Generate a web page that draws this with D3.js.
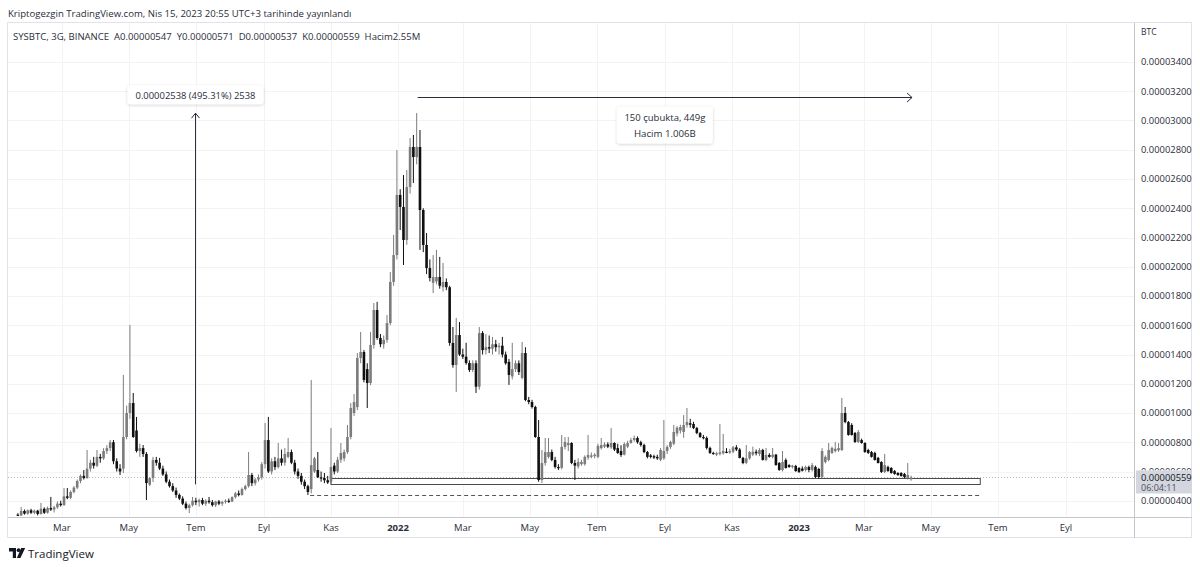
<!DOCTYPE html>
<html>
<head>
<meta charset="utf-8">
<script src="https://cdn.jsdelivr.net/npm/d3@7"></script>
<style>
  body { margin: 0; background: #fff; }
  svg { display: block; font-family: "Open Sans", sans-serif; }
</style>
</head>
<body>
<svg id="chart" width="1200" height="567"></svg>
<script>
// 3-day SYSBTC candles, prices in satoshi (1e-8 BTC), [open, high, low, close]
const lastOpen = "2023-04-13";
const stepDays = 3;
const ohlc = [
  [305,315,295,300],[300,357,295,330],[330,340,305,312],[312,340,305,335],[335,345,310,318],[318,340,308,332],[332,338,300,310],[310,385,305,345],[345,355,310,318],[318,360,312,350],
  [350,426,330,340],[340,365,320,355],[355,395,345,380],[380,400,360,370],[370,487,365,430],[430,487,410,420],[420,470,410,460],[460,500,450,490],[490,545,480,535],[535,580,520,570],
  [570,610,545,555],[555,747,550,620],[620,680,600,660],[660,700,620,640],[640,747,630,700],[700,720,660,690],[690,760,680,740],[740,780,720,760],[760,815,740,800],[800,815,650,670],
  [670,690,600,620],[620,650,576,600],[620,1260,590,836],[836,1050,820,1000],[1000,1602,960,1068],[1068,1137,830,836],[880,973,730,740],[740,790,700,760],[760,781,700,720],[720,733,405,521],
  [510,560,500,555],[555,700,528,679],[679,700,640,660],[660,693,610,620],[620,640,570,580],[580,600,520,530],[530,545,490,500],[500,520,460,470],[470,490,420,440],[440,450,405,415],
  [415,430,370,380],[380,395,340,350],[350,380,316,370],[370,426,360,400],[400,420,370,390],[390,415,360,405],[405,420,370,380],[380,410,365,400],[400,426,380,390],[390,405,360,370],
  [370,400,357,395],[395,405,370,380],[380,400,365,392],[392,410,380,400],[400,415,385,395],[395,430,390,425],[425,460,415,450],[450,470,430,440],[440,490,435,480],[480,510,470,500],
  [500,733,490,576],[576,590,500,520],[520,555,505,545],[545,580,530,560],[560,665,545,650],[650,932,620,815],[815,973,590,600],[600,690,580,670],[670,700,610,630],[630,795,620,690],
  [690,750,640,660],[660,760,640,720],[700,829,690,733],[733,750,650,660],[660,680,580,600],[600,620,550,570],[570,590,510,530],[530,545,480,500],[500,510,439,460],[480,1226,450,644],
  [600,700,590,690],[610,733,555,560],[560,600,530,555],[555,590,520,540],[540,570,515,525],
  [528,897,515,631],[640,660,580,600],[600,700,590,680],[680,795,660,727],[690,750,670,733],[733,918,720,836],[836,1068,820,1034],[1000,1130,980,1075],[1040,1410,1020,1376],[1376,1554,1340,1417],
  [1417,1430,1210,1226],[1300,1340,1034,1205],[1205,1554,1190,1465],[1465,1752,1440,1704],[1704,1760,1500,1513],[1513,1540,1450,1470],[1470,1530,1440,1500],[1500,1670,1480,1615],[1615,1964,1600,1896],[1896,2217,1870,2080],
  [2080,2798,2050,2491],[2491,2530,2251,2409],[2409,2627,2012,2183],[2183,2662,2150,2545],[2545,2880,2500,2819],[2819,2901,2573,2750],[2750,3051,2700,2819],[2819,2935,2115,2388],[2388,2400,2100,2149],[2149,2231,1950,1991],
  [1991,2050,1900,1923],[1890,2080,1820,1930],[1900,2115,1880,1930],[1930,2067,1850,1870],[1860,2026,1830,1896],[1896,1920,1840,1860],[1860,1870,1460,1479],[1479,1588,1310,1328],[1328,1650,1144,1533],[1533,1622,1390,1400],
  [1400,1440,1370,1385],[1385,1480,1330,1342],[1342,1360,1280,1294],[1294,1360,1280,1340],[1340,1360,1137,1180],[1180,1588,1160,1547],[1547,1560,1400,1430],[1430,1540,1400,1450],[1450,1530,1410,1440],[1440,1520,1400,1470],
  [1470,1500,1420,1450],[1450,1480,1400,1460],[1460,1520,1380,1400],[1400,1420,1330,1340],[1350,1370,1192,1260],[1250,1480,1230,1300],[1300,1360,1280,1340],[1340,1360,1260,1280],[1240,1486,1230,1410],[1410,1450,1080,1089],
  [1089,1110,1060,1075],[1075,1090,1030,1041],[1041,1050,830,836],[836,952,530,542],[542,747,521,658],[658,829,640,733],[700,829,690,733],[733,750,670,679],[679,700,620,631],[631,650,610,625],
  [625,850,615,768],[768,836,750,802],[780,836,740,795],[795,800,650,658],[658,680,542,640],[635,690,620,665],[650,680,640,665],[650,710,640,700],[695,850,680,713],[700,730,690,710],
  [705,725,690,715],[700,790,690,775],[760,829,750,781],[770,800,760,785],[785,800,760,770],[765,897,755,795],[795,800,740,750],[760,790,720,727],[740,780,700,713],[715,800,710,788],
  [770,810,760,795],[795,830,790,815],[815,845,805,829],[829,840,790,800],[800,810,770,781],[781,790,725,733],[733,740,690,700],[710,720,690,700],[705,715,685,695],[700,715,680,690],
  [680,760,670,747],[690,952,680,740],[740,780,720,768],[768,810,755,802],[790,918,780,870],[860,910,840,900],[880,920,860,904],[870,986,830,918],[918,1034,900,938],[930,960,900,920],
  [925,940,890,897],[897,905,855,863],[863,870,830,836],[836,850,820,829],[829,840,750,761],[761,770,720,727],[727,735,715,720],[715,735,705,725],[720,925,710,730],[725,857,715,740],
  [735,760,725,730],[730,755,720,740],[735,775,725,765],[765,780,740,750],[750,760,690,693],[693,700,650,658],[660,781,650,690],[690,740,680,733],[715,770,705,735],[735,750,710,725],
  [720,760,705,747],[747,755,675,679],[679,761,670,713],[713,725,695,700],[700,761,690,715],[715,720,640,644],[658,665,605,610],[610,740,600,665],[679,690,620,624],[644,650,625,631],
  [631,645,620,640],[638,645,598,603],[624,630,590,597],[620,635,600,605],[610,640,600,631],[631,640,595,610],[610,658,600,644],[631,640,555,562],[617,625,550,562],[562,760,555,740],
  [665,710,655,700],[679,795,670,747],[727,770,720,761],[740,802,730,755],[745,795,735,760],[747,1103,740,1000],[1000,1041,930,938],[938,945,845,850],[918,930,845,850],[863,870,795,802],
  [802,884,795,870],[815,825,790,795],[795,800,728,733],[747,755,720,727],[733,740,695,700],[727,735,675,679],[693,700,655,658],[665,670,590,597],[597,720,590,644],[631,640,598,603],
  [624,630,585,590],[603,610,578,583],[590,595,570,576],[590,595,565,569],[583,590,555,562],[556,658,545,576],[547,571,537,559]
];

const priceTicks = [400,600,800,1000,1200,1400,1600,1800,2000,2200,2400,2600,2800,3000,3200,3400];
const timeTicks = ["2021-03-01","2021-05-01","2021-07-01","2021-09-01","2021-11-01","2022-01-01",
                   "2022-03-01","2022-05-01","2022-07-01","2022-09-01","2022-11-01","2023-01-01",
                   "2023-03-01","2023-05-01","2023-07-01","2023-09-01"];
const timeLabels = ["Mar","May","Tem","Eyl","Kas","2022","Mar","May","Tem","Eyl","Kas","2023","Mar","May","Tem","Eyl"];

// drawings on the chart
const lastPrice = 559;
const measureDate = "2021-06-30", measureLow = 512, measureHigh = 3050;
const measureText = "0.00002538 (495.31%) 2538";
const spanFrom = 121, spanPrice = 3160;
const spanText = ["150 çubukta, 449g", "Hacim 1.006B"];
const zoneFrom = "2021-11-01", zoneTo = "2023-06-15", zoneLow = 515, zoneHigh = 556;
const dashFrom = "2021-10-13", dashLevel = 439;

const headerText = "Kriptogezgin TradingView.com, Nis 15, 2023 20:55 UTC+3 tarihinde yayınlandı";
const legendText = "SYSBTC, 3G, BINANCE  A0.00000547  Y0.00000571  D0.00000537  K0.00000559  Hacim2.55M";

const svg = d3.select("#chart");
const pL = 8, pR = 1134, pT = 23, pB = 517;
const textColor = "#2a2e39", upColor = "#7c7c7c", downColor = "#101010";

const parse = d3.utcParse("%Y-%m-%d");
const lastDay = parse(lastOpen);
const dates = ohlc.map((d, i) => d3.utcDay.offset(lastDay, -stepDays * (ohlc.length - 1 - i)));

const x = d3.scaleUtc()
  .domain([parse("2022-01-01"), parse("2023-01-01")])
  .range([398, 799]);
const y = d3.scaleLinear().domain([400, 3400]).range([500.75, 62]);
const fmt = v => (v * 1e-8).toFixed(8);
const ly = y(lastPrice);

// shadow for the label boxes
const defs = svg.append("defs");
defs.append("filter").attr("id", "shadow").attr("x", "-20%").attr("y", "-40%").attr("width", "140%").attr("height", "180%")
  .append("feDropShadow").attr("dx", 0).attr("dy", 1).attr("stdDeviation", 1.5).attr("flood-color", "#000").attr("flood-opacity", 0.18);
defs.append("clipPath").attr("id", "plot")
  .append("rect").attr("x", pL).attr("y", pT).attr("width", pR - pL).attr("height", pB - pT);
// price labels are hidden behind the last-price badge
const axisClip = defs.append("clipPath").attr("id", "axisclip");
axisClip.append("rect").attr("x", pR).attr("y", pT).attr("width", 60).attr("height", ly - 7 - pT);
axisClip.append("rect").attr("x", pR).attr("y", ly + 16).attr("width", 60).attr("height", pB - ly - 16);

function fit(t, w) {
  const len = t.node().getComputedTextLength();
  t.attr("font-size", (parseFloat(t.attr("font-size")) * w / len).toFixed(2));
}

// header
fit(svg.append("text").attr("x", 8).attr("y", 16.5).attr("font-size", 11)
  .attr("fill", textColor).text(headerText), 344);

// panel frame
svg.append("rect").attr("x", pL - 0.5).attr("y", pT - 0.5).attr("width", 1192 - pL).attr("height", 538 - pT)
  .attr("fill", "none").attr("stroke", "#e0e3eb");

// grid
svg.append("g").selectAll("line").data(priceTicks).join("line")
  .attr("x1", pL).attr("x2", pR)
  .attr("y1", d => Math.round(y(d)) + 0.5).attr("y2", d => Math.round(y(d)) + 0.5)
  .attr("stroke", "#f3f3f3");
svg.append("g").selectAll("line").data(timeTicks).join("line")
  .attr("x1", d => Math.round(x(parse(d))) + 0.5).attr("x2", d => Math.round(x(parse(d))) + 0.5)
  .attr("y1", pT).attr("y2", pB)
  .attr("stroke", "#f3f3f3");

// legend
fit(svg.append("text").attr("x", 13).attr("y", 39.5).attr("font-size", 11)
  .style("white-space", "pre")
  .attr("fill", textColor).text(legendText), 408);

// last price dotted line
svg.append("line").attr("x1", pL).attr("x2", pR)
  .attr("y1", Math.round(ly) + 0.5).attr("y2", Math.round(ly) + 0.5)
  .attr("stroke", "#bbbbbb").attr("stroke-dasharray", "1,2");

const plot = svg.append("g").attr("clip-path", "url(#plot)");

// support zone and dashed low
plot.append("rect")
  .attr("x", x(parse(zoneFrom))).attr("width", x(parse(zoneTo)) - x(parse(zoneFrom)))
  .attr("y", Math.round(y(zoneHigh)) + 0.5).attr("height", Math.round(y(zoneLow)) - Math.round(y(zoneHigh)))
  .attr("fill", "#fff").attr("stroke", "#4a4a4a");
plot.append("line")
  .attr("x1", x(parse(dashFrom))).attr("x2", x(parse(zoneTo)))
  .attr("y1", Math.round(y(dashLevel)) + 0.5).attr("y2", Math.round(y(dashLevel)) + 0.5)
  .attr("stroke", "#555").attr("stroke-dasharray", "4,3");

// candles
const candles = plot.append("g").selectAll("g").data(ohlc).join("g")
  .attr("fill", d => d[3] >= d[0] ? upColor : downColor)
  .attr("stroke", d => d[3] >= d[0] ? upColor : downColor);
candles.append("line")
  .attr("x1", (d, i) => x(dates[i])).attr("x2", (d, i) => x(dates[i]))
  .attr("y1", d => y(d[1])).attr("y2", d => y(d[2]))
  .attr("stroke-width", 1);
candles.append("rect")
  .attr("x", (d, i) => x(dates[i]) - 1.3).attr("width", 2.6)
  .attr("y", d => y(Math.max(d[0], d[3])))
  .attr("height", d => Math.max(1.2, Math.abs(y(d[0]) - y(d[3]))))
  .attr("stroke", "none");

// price range measure
const mx = Math.round(x(parse(measureDate))) + 0.5;
const myTop = y(measureHigh), myBot = y(measureLow);
svg.append("line").attr("x1", mx).attr("x2", mx).attr("y1", myBot).attr("y2", myTop)
  .attr("stroke", "#2a2e39").attr("stroke-width", 1);
svg.append("polyline").attr("points", `${mx - 4},${myTop + 5} ${mx},${myTop} ${mx + 4},${myTop + 5}`)
  .attr("fill", "none").attr("stroke", "#2a2e39");
svg.append("rect").attr("x", mx - 68).attr("width", 136).attr("y", myTop - 28).attr("height", 19)
  .attr("fill", "#fff").attr("rx", 3).attr("filter", "url(#shadow)");
fit(svg.append("text").attr("x", mx).attr("y", myTop - 14.5).attr("text-anchor", "middle")
  .attr("font-size", 10).attr("fill", textColor).text(measureText), 120);

// date range measure
const sx1 = x(dates[spanFrom]) + 1, sx2 = x(dates[dates.length - 1]) + 1;
const sy = Math.round(y(spanPrice)) + 0.5;
svg.append("line").attr("x1", sx1).attr("x2", sx2).attr("y1", sy).attr("y2", sy)
  .attr("stroke", "#2a2e39");
svg.append("polyline").attr("points", `${sx2 - 5},${sy - 4.5} ${sx2},${sy} ${sx2 - 5},${sy + 4.5}`)
  .attr("fill", "none").attr("stroke", "#2a2e39");
const scx = (sx1 + sx2) / 2;
svg.append("rect").attr("x", scx - 48).attr("width", 96).attr("y", sy + 9).attr("height", 37)
  .attr("rx", 3).attr("fill", "#fff").attr("filter", "url(#shadow)");
fit(svg.append("text").attr("x", scx).attr("y", sy + 23).attr("text-anchor", "middle")
  .attr("font-size", 10).attr("fill", textColor).text(spanText[0]), 81);
fit(svg.append("text").attr("x", scx).attr("y", sy + 39).attr("text-anchor", "middle")
  .attr("font-size", 10).attr("fill", textColor).text(spanText[1]), 62);

// price axis
svg.append("line").attr("x1", pR + 0.5).attr("x2", pR + 0.5).attr("y1", pT).attr("y2", 538)
  .attr("stroke", "#c4c6cc");
svg.append("text").attr("x", 1141).attr("y", 35).attr("font-size", 8.5).attr("fill", textColor).text("BTC");
svg.append("g").attr("clip-path", "url(#axisclip)")
  .selectAll("text").data(priceTicks).join("text")
  .attr("x", 1141).attr("y", d => y(d) + 3.3)
  .attr("font-size", 9.4).attr("fill", textColor)
  .text(fmt);

// last price label
svg.append("rect").attr("x", 1136).attr("y", ly - 7).attr("width", 56).attr("height", 23).attr("fill", "#d3d6de");
svg.append("text").attr("x", 1141).attr("y", ly + 3.3).attr("font-size", 9.4).attr("fill", "#131722").text(fmt(lastPrice));
svg.append("text").attr("x", 1141).attr("y", ly + 13.5).attr("font-size", 9).attr("fill", "#4a4e59").text("06:04:11");

// time axis
svg.append("line").attr("x1", pL).attr("x2", 1192).attr("y1", pB + 0.5).attr("y2", pB + 0.5)
  .attr("stroke", "#c4c6cc");
svg.append("g").selectAll("text").data(timeTicks).join("text")
  .attr("x", d => x(parse(d))).attr("y", 531)
  .attr("text-anchor", "middle").attr("font-size", 9.5)
  .attr("font-weight", (d, i) => /^\d/.test(timeLabels[i]) ? "bold" : "normal")
  .attr("fill", textColor)
  .text((d, i) => timeLabels[i]);

// TradingView footer
const logo = svg.append("g").attr("fill", "#131722");
logo.append("path").attr("d", "M9 548 h7 v10 h-3.2 v-6.6 h-3.8 z");
logo.append("circle").attr("cx", 18.6).attr("cy", 550.2).attr("r", 1.9);
logo.append("path").attr("d", "M21.2 548 h4 l-4.8 10 h-3.6 z");
svg.append("text").attr("x", 28).attr("y", 557.5).attr("font-size", 11.5).attr("fill", "#131722").text("TradingView");
</script>
</body>
</html>
